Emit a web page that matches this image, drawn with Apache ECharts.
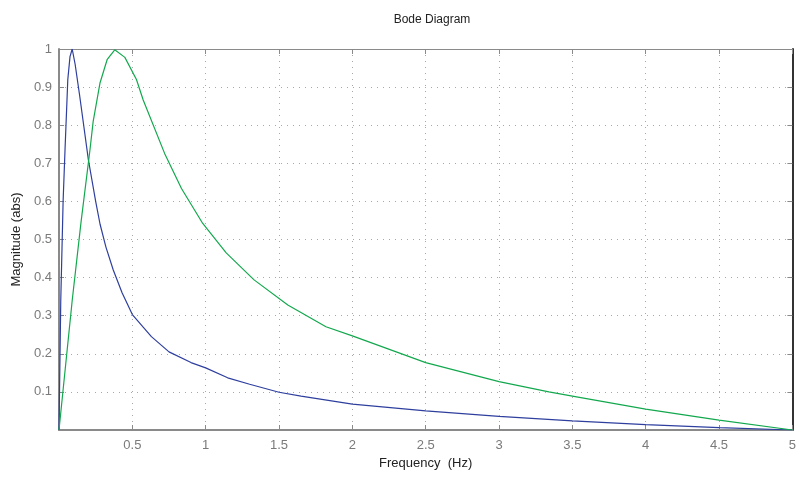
<!DOCTYPE html>
<html>
<head>
<meta charset="utf-8">
<script src="https://cdn.jsdelivr.net/npm/echarts@6/dist/echarts.min.js"></script>
<style>
  html, body { margin: 0; padding: 0; background: #fff; }
  #chart { width: 799px; height: 477px; }
</style>
</head>
<body>
<div id="chart"></div>
<script>
  // frequency (Hz), magnitude (abs)
  const blueFreq = [0, 0.012, 0.028, 0.041, 0.06, 0.075, 0.09, 0.11, 0.14, 0.2, 0.25, 0.28, 0.32, 0.37, 0.43, 0.5,
    0.63, 0.75, 0.9, 1.0, 1.15, 1.3, 1.5, 1.65, 2.0, 2.5, 3.0, 3.5, 4.0, 4.5, 5.0];
  const blueMag = [0, 0.34, 0.6, 0.735, 0.92, 0.98, 1.0, 0.96, 0.88, 0.71, 0.6, 0.54, 0.48, 0.42, 0.36, 0.303,
    0.245, 0.205, 0.177, 0.163, 0.137, 0.12, 0.099, 0.089, 0.068, 0.05, 0.036, 0.024, 0.014, 0.006, 0];

  const greenFreq = [0, 0.09, 0.15, 0.211, 0.233, 0.279, 0.329, 0.38, 0.449, 0.528, 0.574, 0.72, 0.835, 0.98,
    1.14, 1.33, 1.56, 1.82, 2.0, 2.5, 3.0, 3.34, 3.5, 4.0, 4.5, 5.0];
  const greenMag = [0, 0.34, 0.545, 0.735, 0.81, 0.91, 0.973, 0.998, 0.978, 0.92, 0.866, 0.726, 0.634, 0.542,
    0.465, 0.394, 0.328, 0.271, 0.247, 0.177, 0.127, 0.1, 0.089, 0.055, 0.026, 0];

  const xTicks = [0, 0.5, 1, 1.5, 2, 2.5, 3, 3.5, 4, 4.5, 5];
  const yTicks = [0, 0.1, 0.2, 0.3, 0.4, 0.5, 0.6, 0.7, 0.8, 0.9, 1];

  const pairs = (xs, ys) => xs.map((x, i) => [x, ys[i]]);
  const hideZero = v => (v === 0 ? '' : String(v));

  const chart = echarts.init(document.getElementById('chart'));
  const font = 'Liberation Sans, Arial, sans-serif';
  const gridLine = { show: true, lineStyle: { color: '#a8a8a8', type: [1, 5], width: 1 } };
  const xMin = xTicks[0], xMax = xTicks[xTicks.length - 1];
  const yMin = yTicks[0], yMax = yTicks[yTicks.length - 1];

  chart.setOption({
    animation: false,
    title: {
      text: 'Bode Diagram',
      left: 427, top: 9, textAlign: 'center',
      textStyle: { fontSize: 12, fontWeight: 'normal', color: '#222', fontFamily: font }
    },
    grid: { left: 59, right: 5, top: 49, bottom: 47 },
    xAxis: [{
      type: 'value', min: xMin, max: xMax, interval: 0.5,
      name: 'Frequency  (Hz)', nameLocation: 'middle', nameGap: 27,
      nameTextStyle: { fontSize: 13, color: '#222', fontFamily: font },
      axisLine: { onZero: false, lineStyle: { color: '#8a8a8a', width: 2 } },
      axisTick: { inside: true, length: 5, lineStyle: { color: '#8a8a8a' } },
      axisLabel: { formatter: hideZero, color: '#7a7a7a', fontSize: 13, margin: 9, fontFamily: font },
      splitLine: gridLine
    }, {
      type: 'value', position: 'top', min: xMin, max: xMax, interval: 0.5,
      axisLine: { show: true, onZero: false, lineStyle: { color: '#8a8a8a', width: 1 } },
      axisTick: { inside: true, length: 5, lineStyle: { color: '#8a8a8a' } },
      axisLabel: { show: false }, splitLine: { show: false }
    }],
    yAxis: [{
      type: 'value', min: yMin, max: yMax, interval: 0.1,
      name: 'Magnitude (abs)', nameLocation: 'middle', nameGap: 36,
      nameTextStyle: { fontSize: 13, color: '#222', fontFamily: font },
      axisLine: { show: true, onZero: false, lineStyle: { color: '#8a8a8a', width: 2 } },
      axisTick: { show: true, inside: true, length: 5, lineStyle: { color: '#8a8a8a' } },
      axisLabel: { formatter: hideZero, color: '#7a7a7a', fontSize: 13, margin: 7, fontFamily: font },
      splitLine: gridLine
    }, {
      type: 'value', position: 'right', min: yMin, max: yMax, interval: 0.1,
      axisLine: { show: true, onZero: false, lineStyle: { color: '#333', width: 2 } },
      axisTick: { show: true, inside: true, length: 5, lineStyle: { color: '#8a8a8a' } },
      axisLabel: { show: false }, splitLine: { show: false }
    }],
    series: [{
      type: 'line', data: pairs(blueFreq, blueMag),
      showSymbol: false, lineStyle: { color: '#2e3f9e', width: 1.2 }, z: 3
    }, {
      type: 'line', data: pairs(greenFreq, greenMag),
      showSymbol: false, lineStyle: { color: '#13a84e', width: 1.2 }, z: 3
    }]
  });
</script>
</body>
</html>
